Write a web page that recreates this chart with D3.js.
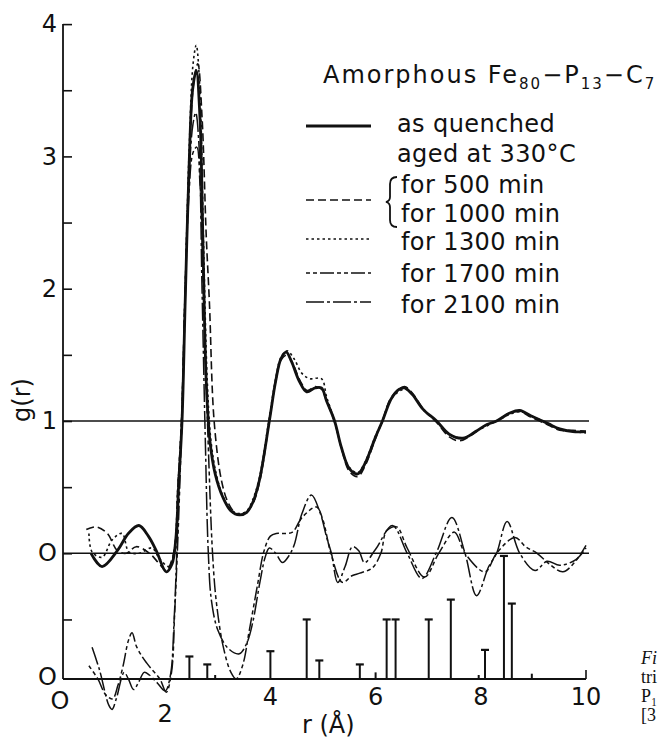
<!DOCTYPE html>
<html>
<head>
<meta charset="utf-8">
<script src="https://cdn.jsdelivr.net/npm/d3@7"></script>
<style>
  body { margin: 0; background: #fff; }
  svg { display: block; }
  text { fill: #111; font-family: "DejaVu Sans", sans-serif; }
</style>
</head>
<body>
<svg width="659" height="741"></svg>
<script>
// g(r) curves, [r (Å), g(r)]
var asQuenched = [[0.59,0.0],[0.8,-0.1],[1.09,0.02],[1.3,0.15],[1.5,0.21],[1.68,0.13],[1.83,0.02],[2.02,-0.14],[2.13,-0.08],[2.2,0.1],[2.26,0.55],[2.32,1.0],[2.38,1.9],[2.46,3.0],[2.52,3.5],[2.59,3.65],[2.66,3.3],[2.72,2.3],[2.78,1.3],[2.85,0.85],[2.95,0.6],[3.1,0.42],[3.25,0.32],[3.41,0.29],[3.55,0.31],[3.66,0.38],[3.79,0.55],[3.98,1.0],[4.1,1.3],[4.2,1.47],[4.3,1.52],[4.4,1.45],[4.55,1.3],[4.69,1.22],[4.85,1.25],[4.97,1.25],[5.07,1.15],[5.22,1.0],[5.35,0.8],[5.5,0.64],[5.66,0.6],[5.8,0.68],[6.0,0.88],[6.13,1.0],[6.3,1.17],[6.45,1.24],[6.55,1.25],[6.7,1.2],[6.9,1.09],[7.16,1.0],[7.4,0.9],[7.66,0.87],[7.9,0.92],[8.1,0.97],[8.3,1.0],[8.55,1.06],[8.74,1.08],[8.95,1.04],[9.28,0.98],[9.5,0.94],[9.75,0.92],[10.0,0.92]];

var aged500 = [[0.5,0.18],[0.69,0.2],[0.9,0.15],[1.09,0.02],[1.26,0.0],[1.45,0.05],[1.7,0.0],[1.89,-0.08],[2.02,-0.13],[2.17,0.02],[2.24,0.5],[2.31,1.0],[2.38,2.0],[2.46,3.0],[2.54,3.55],[2.62,3.7],[2.7,3.3],[2.78,2.4],[2.84,1.9],[2.93,1.0],[3.07,0.55],[3.2,0.38],[3.35,0.3],[3.5,0.3],[3.66,0.37],[3.8,0.55],[3.98,1.0],[4.1,1.3],[4.2,1.46],[4.32,1.5],[4.42,1.44],[4.57,1.3],[4.7,1.23],[4.85,1.26],[4.97,1.24],[5.08,1.14],[5.23,0.98],[5.36,0.78],[5.5,0.62],[5.66,0.58],[5.8,0.66],[6.0,0.87],[6.13,1.0],[6.3,1.18],[6.55,1.26],[6.72,1.2],[6.92,1.08],[7.16,0.99],[7.4,0.88],[7.6,0.85],[7.85,0.9],[8.1,0.97],[8.3,1.0],[8.55,1.06],[8.75,1.07],[8.95,1.03],[9.28,0.97],[9.5,0.93],[9.75,0.93],[10.0,0.92]];

var aged1300 = [[0.55,0.15],[0.61,0.01],[0.8,-0.03],[0.99,0.1],[1.18,0.15],[1.31,0.01],[1.5,0.0],[1.75,0.04],[1.89,-0.04],[2.07,-0.1],[2.17,0.02],[2.24,0.5],[2.31,1.0],[2.38,2.0],[2.46,3.1],[2.53,3.7],[2.59,3.84],[2.66,3.5],[2.72,2.5],[2.8,1.3],[2.87,0.85],[2.97,0.6],[3.1,0.43],[3.25,0.33],[3.41,0.3],[3.55,0.32],[3.66,0.4],[3.79,0.57],[3.97,1.0],[4.1,1.32],[4.2,1.48],[4.32,1.53],[4.45,1.47],[4.6,1.36],[4.75,1.32],[4.97,1.32],[5.07,1.18],[5.22,1.0],[5.35,0.8],[5.5,0.65],[5.66,0.61],[5.8,0.69],[6.0,0.89],[6.13,1.0],[6.3,1.17],[6.55,1.24],[6.7,1.2],[6.9,1.09],[7.16,1.0],[7.4,0.9],[7.66,0.87],[7.9,0.92],[8.3,1.0],[8.55,1.05],[8.74,1.07],[8.95,1.04],[9.28,0.98],[9.5,0.94],[9.75,0.92],[10.0,0.91]];

// the two longest-aged curves sit one unit lower in the figure
var aged1700 = [[0.55,-0.85],[0.72,-0.95],[0.87,-1.07],[1.0,-1.1],[1.1,-1.0],[1.2,-0.85],[1.3,-0.66],[1.37,-0.6],[1.45,-0.7],[1.56,-0.78],[1.65,-0.83],[1.75,-0.88],[1.9,-0.95],[2.02,-1.05],[2.12,-0.9],[2.18,-0.45],[2.24,0.1],[2.3,0.8],[2.36,1.7],[2.45,2.7],[2.53,3.03],[2.6,3.07],[2.66,2.8],[2.74,1.8],[2.82,0.8],[2.9,0.0],[2.97,-0.36],[3.1,-0.7],[3.25,-0.9],[3.35,-0.95],[3.47,-0.85],[3.6,-0.58],[3.75,-0.25],[3.88,0.02],[4.0,0.13],[4.11,0.15],[4.25,0.15],[4.42,0.16],[4.6,0.27],[4.88,0.35],[5.0,0.25],[5.15,0.0],[5.37,-0.22],[5.55,-0.17],[5.7,-0.15],[5.94,-0.11],[6.1,0.0],[6.21,0.17],[6.4,0.2],[6.6,0.04],[6.93,-0.18],[7.2,0.0],[7.5,0.16],[7.7,0.0],[8.08,-0.14],[8.3,0.0],[8.65,0.12],[8.85,0.05],[9.07,0.0],[9.3,-0.08],[9.56,-0.14],[9.8,-0.06],[10.0,0.06]];

var aged2100 = [[0.61,-0.71],[0.75,-0.88],[0.93,-1.15],[0.99,-1.18],[1.07,-1.1],[1.22,-0.9],[1.3,-0.95],[1.4,-1.03],[1.5,-0.97],[1.6,-0.9],[1.7,-0.92],[1.85,-0.98],[2.0,-1.04],[2.1,-0.92],[2.17,-0.5],[2.22,0.0],[2.27,0.6],[2.32,1.0],[2.38,1.9],[2.46,2.9],[2.53,3.25],[2.58,3.33],[2.64,3.1],[2.7,2.0],[2.76,0.9],[2.82,0.0],[2.88,-0.36],[3.0,-0.58],[3.2,-0.72],[3.41,-0.76],[3.55,-0.68],[3.66,-0.53],[3.8,-0.22],[3.9,-0.03],[3.98,0.04],[4.1,0.0],[4.23,-0.07],[4.35,-0.02],[4.45,0.06],[4.6,0.3],[4.78,0.44],[4.95,0.3],[5.07,0.12],[5.16,0.0],[5.28,-0.22],[5.42,-0.1],[5.56,0.05],[5.68,0.02],[5.79,-0.07],[6.0,0.03],[6.32,0.21],[6.6,0.0],[6.88,-0.19],[7.15,0.0],[7.45,0.27],[7.7,0.0],[7.92,-0.32],[8.15,-0.1],[8.3,0.0],[8.5,0.24],[8.74,0.0],[9.03,-0.13],[9.26,-0.06],[9.5,-0.09],[9.8,-0.05],[10.0,0.04]];

// crystalline reference lines (stick diagram on the bottom axis)
var stickR = [2.46, 2.80, 2.95, 4.0, 4.69, 4.93, 5.70, 6.0, 6.21, 6.38, 7.01, 7.43, 7.96, 8.08, 8.44, 8.59, 8.97];
var stickH = [0.17, 0.11, 0.03, 0.21, 0.45, 0.14, 0.11, 0.05, 0.45, 0.45, 0.45, 0.60, 0.03, 0.22, 0.93, 0.57, 0.04];

var yTicks = [4, 3.5, 3, 2.5, 2, 1.5, 1, 0.5, 0, -0.5];
var yLabels = {4: "4", 3: "3", 2: "2", 1: "1", 0: "O"};
var xTicks = [0, 2, 4, 6, 8, 10];
var xLabels = ["O", "2", "4", "6", "8", "10"];
var refLines = [1, 0];
var baseG = -0.95;

var legendItems = [
    {label: "as quenched", dash: null, w: 3},
    {label: "for 500 min", dash: "8,4", w: 1.6},
    {label: "for 1300 min", dash: "2.5,3", w: 1.6},
    {label: "for 1700 min", dash: "4,3,4,3,14,3", w: 1.6},
    {label: "for 2100 min", dash: "18,3,3,3", w: 1.6}
];

var svg = d3.select("svg");

var x = d3.scaleLinear().domain([0, 10]).range([60, 586]);
var y = d3.scaleLinear().domain([-1, 4]).range([685.6, 24.1]);
var axisX = x(0) + 3;

var line = d3.line()
    .x(function(d) { return x(d[0]); })
    .y(function(d) { return y(d[1]); })
    .curve(d3.curveCatmullRom.alpha(0.5));

// y axis: ticks point inward, labels outside
var yAxis = d3.axisLeft(y)
    .tickValues(yTicks)
    .tickSizeInner(-9)
    .tickSizeOuter(0)
    .tickPadding(6)
    .tickFormat(function(d) { return yLabels[d] || ""; });

var gy = svg.append("g")
    .attr("transform", "translate(" + axisX + ",0)")
    .call(yAxis);
gy.select(".domain").remove();
gy.selectAll(".tick line").attr("stroke", "#111").attr("stroke-width", 1.6);
gy.selectAll(".tick text")
    .attr("font-family", "DejaVu Sans, sans-serif")
    .attr("font-size", 24)
    .attr("fill", "#111");

svg.append("line")
    .attr("x1", axisX).attr("x2", axisX)
    .attr("y1", y(4)).attr("y2", y(baseG))
    .attr("stroke", "#111").attr("stroke-width", 1.8);

// bottom "O" on the lower zero
svg.append("text")
    .attr("x", axisX - 6).attr("y", y(baseG) - 2)
    .attr("dy", "0.32em")
    .attr("text-anchor", "end")
    .attr("font-size", 24)
    .text("O");

// bottom axis
svg.append("line")
    .attr("x1", axisX).attr("x2", x(10))
    .attr("y1", y(baseG)).attr("y2", y(baseG))
    .attr("stroke", "#111").attr("stroke-width", 1.8);
svg.append("line")
    .attr("x1", x(10)).attr("x2", x(10))
    .attr("y1", y(baseG)).attr("y2", y(baseG) - 9)
    .attr("stroke", "#111").attr("stroke-width", 1.6);

svg.selectAll(".xlab")
    .data(xTicks)
    .enter().append("text")
    .attr("class", "xlab")
    .attr("x", function(d) { return x(d); })
    .attr("y", function(d) { return d === 2 ? 722 : (d === 0 ? 709 : 705); })
    .attr("text-anchor", "middle")
    .attr("font-size", 24)
    .text(function(d, i) { return xLabels[i]; });

// horizontal reference lines at g = 1 and offset zero
svg.selectAll(".ref")
    .data(refLines)
    .enter().append("line")
    .attr("x1", axisX).attr("x2", x(10) + 3)
    .attr("y1", function(d) { return y(d); })
    .attr("y2", function(d) { return y(d); })
    .attr("stroke", "#111").attr("stroke-width", 1.5);

// sticks
var sticks = svg.append("g");
stickR.forEach(function(r, i) {
    var top = y(baseG + stickH[i]);
    sticks.append("line")
        .attr("x1", x(r)).attr("x2", x(r))
        .attr("y1", y(baseG)).attr("y2", top)
        .attr("stroke", "#111").attr("stroke-width", 2);
    if (stickH[i] > 0.08) {
        sticks.append("line")
            .attr("x1", x(r) - 4).attr("x2", x(r) + 4)
            .attr("y1", top).attr("y2", top)
            .attr("stroke", "#111").attr("stroke-width", 2.2);
    }
});

// curves
var curves = [
    {data: aged2100, dash: legendItems[4].dash, w: 1.5},
    {data: aged1700, dash: legendItems[3].dash, w: 1.5},
    {data: aged1300, dash: legendItems[2].dash, w: 1.6},
    {data: aged500, dash: legendItems[1].dash, w: 1.6},
    {data: asQuenched, dash: null, w: 2.8}
];
svg.selectAll(".curve")
    .data(curves)
    .enter().append("path")
    .attr("class", "curve")
    .attr("d", function(d) { return line(d.data); })
    .attr("fill", "none")
    .attr("stroke", "#111")
    .attr("stroke-width", function(d) { return d.w; })
    .attr("stroke-dasharray", function(d) { return d.dash; });

// axis titles
svg.append("text")
    .attr("transform", "translate(30,400) rotate(-90)")
    .attr("text-anchor", "middle")
    .attr("font-size", 24)
    .text("g(r)");
svg.append("text")
    .attr("x", 302).attr("y", 733)
    .attr("font-size", 24)
    .text("r (Å)");

// title
var title = svg.append("text")
    .attr("x", 323).attr("y", 83)
    .attr("font-size", 24)
    .attr("letter-spacing", 2);
title.append("tspan").text("Amorphous Fe");
title.append("tspan").attr("font-size", 15).attr("dy", 6).text("80");
title.append("tspan").attr("dy", -6).text("\u2212P");
title.append("tspan").attr("font-size", 15).attr("dy", 6).text("13");
title.append("tspan").attr("dy", -6).text("\u2212C");
title.append("tspan").attr("font-size", 15).attr("dy", 6).text("7");

// legend
var legendLineY = [126, 200, 239, 273, 302];
var lg = svg.append("g");
legendItems.forEach(function(d, i) {
    lg.append("line")
        .attr("x1", 306).attr("x2", 371)
        .attr("y1", legendLineY[i]).attr("y2", legendLineY[i])
        .attr("stroke", "#111")
        .attr("stroke-width", d.w)
        .attr("stroke-dasharray", d.dash);
});
var legendText = [
    {t: "as quenched", x: 397, y: 132},
    {t: "aged at 330\u00b0C", x: 397, y: 162},
    {t: "for 500 min", x: 401, y: 193},
    {t: "for 1000 min", x: 401, y: 222},
    {t: "for 1300 min", x: 401, y: 250},
    {t: "for 1700 min", x: 401, y: 282},
    {t: "for 2100 min", x: 401, y: 313}
];
lg.selectAll(".lt")
    .data(legendText)
    .enter().append("text")
    .attr("x", function(d) { return d.x; })
    .attr("y", function(d) { return d.y; })
    .attr("font-size", 24)
    .attr("letter-spacing", 0.4)
    .text(function(d) { return d.t; });
// brace for 500 / 1000 min
lg.append("path")
    .attr("d", "M397,177 Q390,177 390,184 L390,197 Q390,201 386,202 Q390,203 390,207 L390,220 Q390,227 397,227")
    .attr("fill", "none").attr("stroke", "#111").attr("stroke-width", 1.8);

// caption fragment cut by the page edge
var cap = ["Fi", "tri", "P\u2081", "[3"];
svg.selectAll(".cap")
    .data(cap)
    .enter().append("text")
    .attr("x", 641)
    .attr("y", function(d, i) { return 664 + i * 19; })
    .attr("font-style", function(d, i) { return i === 0 ? "italic" : "normal"; })
    .attr("font-size", 18)
    .style("font-family", "Liberation Serif, serif")
    .text(function(d) { return d; });
</script>
</body>
</html>
